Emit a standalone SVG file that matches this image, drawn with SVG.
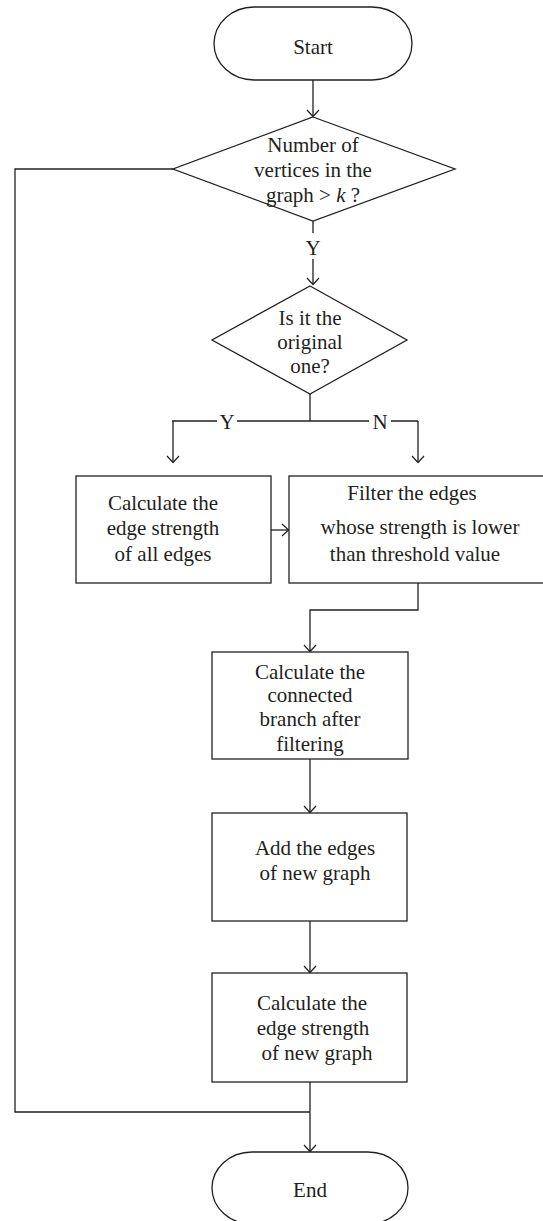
<svg xmlns="http://www.w3.org/2000/svg" width="543" height="1221" viewBox="0 0 543 1221">
<style>
.s{fill:none;stroke:#231f20;stroke-width:1.3}
.b{fill:#fff;stroke:#231f20;stroke-width:1.3}
.ah{fill:none;stroke:#231f20;stroke-width:1.2}
.lb{fill:#fff}
text{font-family:"Liberation Serif","Times New Roman",serif;font-size:21px;fill:#231f20;text-anchor:middle}
</style>
<rect width="543" height="1221" fill="#fff"/>
<g id="connectors">
<path class="s" d="M313,80 V116"/>
<path class="s" d="M313,221 V233 M313,259 V284"/>
<path class="s" d="M310,394 V421 M172,421 H418"/>
<path class="s" d="M173,421 V462"/>
<path class="s" d="M418,421 V462"/>
<path class="s" d="M271,530 H288"/>
<path class="s" d="M418,583 V610 H310 V651"/>
<path class="s" d="M310,759 V812"/>
<path class="s" d="M310,921 V972"/>
<path class="s" d="M310,1082 V1151"/>
<path class="s" d="M173,169 H15 V1112 H310"/>
<g class="ah">
<polyline points="307,110 313,116.5 319,110"/>
<polyline points="307,278 313,284.5 319,278"/>
<polyline points="167,456 173,462.5 179,456"/>
<polyline points="412,456 418,462.5 424,456"/>
<polyline points="282,524 288.5,530 282,536"/>
<polyline points="304,645 310,651.5 316,645"/>
<polyline points="304,806 310,812.5 316,806"/>
<polyline points="304,966 310,972.5 316,966"/>
<polyline points="304,1145 310,1151.5 316,1145"/>
</g>
<rect class="lb" x="217" y="412" width="20" height="18"/>
<rect class="lb" x="369" y="412" width="22" height="18"/>
<text x="227" y="429">Y</text>
<text x="380" y="429">N</text>
<text x="313" y="255">Y</text>
</g>
<g id="start">
<path class="b" d="M254,7 H372 A40,36.5 0 0 1 372,80 H254 A40,36.5 0 0 1 254,7 Z"/>
<text x="313" y="54">Start</text>
</g>
<g id="decision1">
<polygon class="b" points="313,117 455,169 313,221 173,169"/>
<text x="313" y="152">Number of</text>
<text x="313" y="177">vertices in the</text>
<text x="313" y="202">graph &gt; <tspan font-style="italic">k</tspan> ?</text>
</g>
<g id="decision2">
<polygon class="b" points="310,286 407,340 310,394 212,340"/>
<text x="310" y="325">Is it the</text>
<text x="310" y="349">original</text>
<text x="310" y="373">one?</text>
</g>
<g id="calc-all">
<rect class="b" x="76" y="476" width="195" height="107"/>
<text x="163" y="510">Calculate the</text>
<text x="163" y="535">edge strength</text>
<text x="163" y="561">of all edges</text>
</g>
<g id="filter">
<rect class="b" x="289" y="476" width="262" height="107"/>
<text x="412" y="500">Filter the edges</text>
<text x="420" y="534">whose strength is lower</text>
<text x="415" y="561">than threshold value</text>
</g>
<g id="connected">
<rect class="b" x="212" y="652" width="196" height="107"/>
<text x="310" y="679">Calculate the</text>
<text x="310" y="702">connected</text>
<text x="310" y="726">branch after</text>
<text x="310" y="751">filtering</text>
</g>
<g id="add">
<rect class="b" x="212" y="813" width="195" height="108"/>
<text x="315" y="855">Add the edges</text>
<text x="315" y="880">of new graph</text>
</g>
<g id="calc-new">
<rect class="b" x="212" y="973" width="195" height="109"/>
<text x="312" y="1010">Calculate the</text>
<text x="313" y="1035">edge strength</text>
<text x="317" y="1060">of new graph</text>
</g>
<g id="end">
<path class="b" d="M252,1152 H368 A40,36 0 0 1 368,1224 H252 A40,36 0 0 1 252,1152 Z"/>
<text x="310" y="1197">End</text>
</g>
</svg>
